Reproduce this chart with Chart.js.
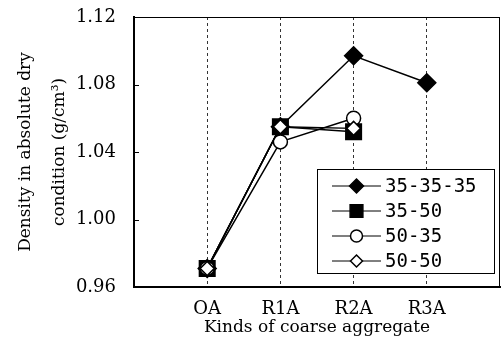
<!DOCTYPE html>
<html>
<head>
<meta charset="utf-8">
<script src="https://cdn.jsdelivr.net/npm/chart.js@4.4.0/dist/chart.umd.min.js"></script>
<style>
  html, body { margin: 0; padding: 0; background: #fff; }
  #wrap { width: 501px; height: 345px; }
</style>
</head>
<body>
<div id="wrap"><canvas id="densityChart" width="501" height="345"></canvas></div>
<script>
// categories (blank slots at both ends leave room like the original plot)
const categories = ["", "OA", "R1A", "R2A", "R3A", ""];
const seriesNames = ["35-35-35", "35-50", "50-35", "50-50"];
const s353535 = [null, 0.971, 1.055, 1.097, 1.081, null];
const s3550 = [null, 0.971, 1.055, 1.052, null, null];
const s5035 = [null, 0.971, 1.046, 1.060, null, null];
const s5050 = [null, 0.971, 1.055, 1.054, null, null];
const yTicks = [0.96, 1.00, 1.04, 1.08, 1.12];

const serif = "'DejaVu Serif', serif";

function drawShape(ctx, style, r, x, y) {
  if (style === "circle") {
    ctx.arc(x, y, r, 0, Math.PI * 2);
  } else if (style === "rect") {
    const s = r * Math.SQRT1_2;
    ctx.rect(x - s, y - s, 2 * s, 2 * s);
  } else {
    ctx.moveTo(x - r, y);
    ctx.lineTo(x, y - r);
    ctx.lineTo(x + r, y);
    ctx.lineTo(x, y + r);
    ctx.closePath();
  }
}

// frame, inward y ticks and a legend with line + marker, like the paper figure
const framePlugin = {
  id: "frame",
  afterDraw(chart) {
    const ctx = chart.ctx;
    const a = chart.chartArea;
    const yScale = chart.scales.y;
    ctx.save();
    ctx.strokeStyle = "#000";
    ctx.lineWidth = 1;
    ctx.strokeRect(a.left + 0.5, a.top + 0.5, a.right - a.left - 1, a.bottom - a.top);

    ctx.beginPath();
    yTicks.forEach((v) => {
      const py = Math.round(yScale.getPixelForValue(v)) + 0.5;
      ctx.moveTo(a.left, py);
      ctx.lineTo(a.left + 5, py);
    });
    ctx.stroke();

    // legend box
    const boxW = 177, boxH = 104;
    const bx = a.right - 6 - boxW;
    const by = a.bottom - 14 - boxH;
    ctx.fillStyle = "#fff";
    ctx.fillRect(bx, by, boxW, boxH);
    ctx.strokeRect(bx + 0.5, by + 0.5, boxW, boxH);

    ctx.font = "19px 'DejaVu Sans Mono', monospace";
    ctx.textBaseline = "middle";
    chart.data.datasets.forEach((ds, i) => {
      const y = by + 17 + i * 25;
      const x0 = bx + 15, x1 = bx + 64, xm = (x0 + x1) / 2;
      ctx.strokeStyle = "#000";
      ctx.lineWidth = 1;
      ctx.beginPath();
      ctx.moveTo(x0, y);
      ctx.lineTo(x1, y);
      ctx.stroke();
      ctx.fillStyle = ds.pointBackgroundColor;
      ctx.lineWidth = 1.5;
      ctx.beginPath();
      drawShape(ctx, ds.pointStyle, ds.legendRadius, xm, y);
      ctx.fill();
      ctx.stroke();
      ctx.fillStyle = "#000";
      ctx.fillText(ds.label, x1 + 4, y + 1);
    });
    ctx.restore();
  }
};

function makeSeries(label, data, style, radius, legendRadius, fill, order) {
  return {
    label: label,
    data: data,
    borderColor: "#000",
    borderWidth: 1.5,
    pointStyle: style,
    pointRadius: radius,
    legendRadius: legendRadius,
    pointBackgroundColor: fill,
    pointBorderColor: "#000",
    pointBorderWidth: 1.5,
    spanGaps: false,
    order: order
  };
}

new Chart(document.getElementById("densityChart"), {
  type: "line",
  data: {
    labels: categories,
    datasets: [
      makeSeries(seriesNames[0], s353535, "rectRot", 9, 7, "#000", 4),
      makeSeries(seriesNames[1], s3550, "rect", 11, 9, "#000", 3),
      makeSeries(seriesNames[2], s5035, "circle", 7, 6, "#fff", 2),
      makeSeries(seriesNames[3], s5050, "rectRot", 7, 6, "#fff", 1)
    ]
  },
  options: {
    responsive: false,
    animation: false,
    layout: { autoPadding: false, padding: { top: 17, right: 1, left: 9, bottom: 0 } },
    plugins: {
      legend: { display: false },
      tooltip: { enabled: false }
    },
    scales: {
      x: {
        offset: false,
        afterFit: (axis) => {
          axis.paddingLeft = 0;
          axis.paddingRight = 0;
          axis.height = 58;
        },
        grid: {
          color: (c) => (c.index === 0 || c.index === categories.length - 1 ? "rgba(0,0,0,0)" : "#333"),
          lineWidth: 1,
          tickLength: 0,
          drawTicks: false
        },
        border: { display: true, color: "#000", width: 2, dash: [3, 3] },
        ticks: {
          color: "#000",
          font: { family: serif, size: 18 },
          padding: 12,
          maxRotation: 0,
          autoSkip: false
        },
        title: {
          display: true,
          text: "Kinds of coarse aggregate",
          color: "#000",
          font: { family: serif, size: 17 },
          padding: { top: 0, bottom: 7 }
        }
      },
      y: {
        min: 0.96,
        max: 1.12,
        afterBuildTicks: (axis) => {
          axis.ticks = yTicks.map((v) => ({ value: v }));
        },
        afterFit: (axis) => {
          axis.paddingTop = 0;
          axis.paddingBottom = 0;
          axis.width = 125;
        },
        grid: { display: false, drawTicks: false },
        border: { display: true, color: "#000", width: 2 },
        ticks: {
          color: "#000",
          font: { family: serif, size: 18 },
          padding: 18,
          callback: (v) => Number(v).toFixed(2)
        },
        title: {
          display: true,
          text: ["Density in absolute dry", "condition (g/cm\u00b3)"],
          color: "#000",
          font: { family: serif, size: 17, lineHeight: 2.0 },
          padding: { top: 0, bottom: 0 }
        }
      }
    }
  },
  plugins: [framePlugin]
});
</script>
</body>
</html>
